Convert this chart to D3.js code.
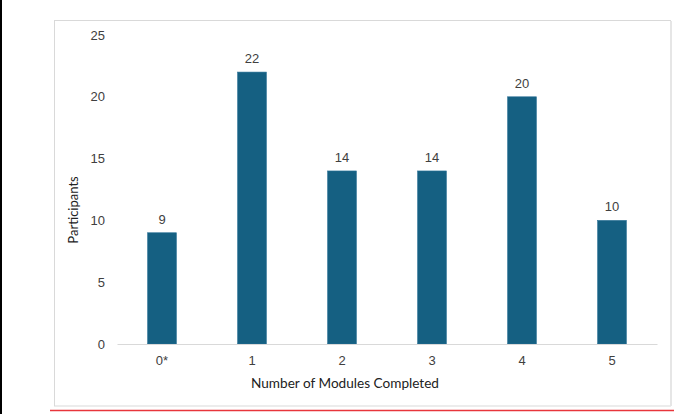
<!DOCTYPE html>
<html>
<head>
<meta charset="utf-8">
<script src="https://cdn.jsdelivr.net/npm/d3@7"></script>
<style>
  html, body { margin: 0; padding: 0; background: #fff; }
  svg { display: block; }
</style>
</head>
<body>
<div id="chart"></div>
<script>
const categories = ["0*", "1", "2", "3", "4", "5"];
const participants = [9, 22, 14, 14, 20, 10];
const yTicks = [0, 5, 10, 15, 20, 25];

const W = 674, H = 414;
const margin = { top: 35, right: 17, bottom: 70, left: 117 };
const width = W - margin.left - margin.right;
const height = H - margin.top - margin.bottom;

const svg = d3.select("#chart").append("svg")
  .attr("width", W)
  .attr("height", H);

// page decorations: left rule, chart frame, red underline
svg.append("rect").attr("x", 0).attr("y", 0).attr("width", 2).attr("height", H).attr("fill", "#000");
svg.append("rect")
  .attr("x", 54.5).attr("y", 20.5).attr("width", 616).attr("height", 385.5)
  .attr("fill", "#fff").attr("stroke", "#d9d9d9").attr("stroke-width", 1);
svg.append("line")
  .attr("x1", 671).attr("x2", 671).attr("y1", 21).attr("y2", 406)
  .attr("stroke", "#e6e6e6").attr("stroke-width", 2);
svg.append("line")
  .attr("x1", 50).attr("x2", W).attr("y1", 410.5).attr("y2", 410.5)
  .attr("stroke", "#e8363c").attr("stroke-width", 1.5);

const g = svg.append("g").attr("transform", "translate(" + margin.left + "," + margin.top + ")");

const x = d3.scaleBand().domain(categories).range([0, width]).paddingInner(0.68).paddingOuter(0.34);
const y = d3.scaleLinear().domain([0, 25]).range([height, 0]);

const tickFont = "Liberation Sans, Arial, sans-serif";

// y axis (labels only)
const yAxis = g.append("g")
  .call(d3.axisLeft(y).tickValues(yTicks).tickSize(0).tickPadding(12));
yAxis.select(".domain").remove();
yAxis.selectAll("text")
  .style("font-family", tickFont)
  .style("font-size", "13px")
  .attr("fill", "#404040");

// bars
g.selectAll(".bar")
  .data(participants)
  .enter()
  .append("rect")
  .attr("class", "bar")
  .attr("x", (d, i) => x(categories[i]))
  .attr("y", d => y(d))
  .attr("width", x.bandwidth())
  .attr("height", d => height - y(d))
  .attr("fill", "#156082")
  .attr("stroke", "#2b7196")
  .attr("stroke-width", 0.6);

// value labels
g.selectAll(".val")
  .data(participants)
  .enter()
  .append("text")
  .attr("class", "val")
  .attr("x", (d, i) => x(categories[i]) + x.bandwidth() / 2)
  .attr("y", d => y(d) - 9)
  .attr("text-anchor", "middle")
  .style("font-family", tickFont)
  .style("font-size", "13px")
  .attr("fill", "#404040")
  .text(d => d);

// x axis
const xAxis = g.append("g")
  .attr("transform", "translate(0," + height + ")")
  .call(d3.axisBottom(x).tickSize(0).tickPadding(12));
xAxis.select(".domain").attr("stroke", "#d9d9d9");
xAxis.selectAll("text")
  .style("font-family", tickFont)
  .style("font-size", "13px")
  .attr("fill", "#404040");

// axis titles
svg.append("text")
  .attr("x", 345)
  .attr("y", 388)
  .attr("text-anchor", "middle")
  .style("font-family", "Lato, sans-serif")
  .style("font-size", "13.6px")
  .attr("fill", "#222")
  .text("Number of Modules Completed");

svg.append("text")
  .attr("transform", "translate(78,210) rotate(-90)")
  .attr("text-anchor", "middle")
  .style("font-family", "Lato, sans-serif")
  .style("font-size", "13px")
  .attr("fill", "#222")
  .text("Participants");
</script>
</body>
</html>
